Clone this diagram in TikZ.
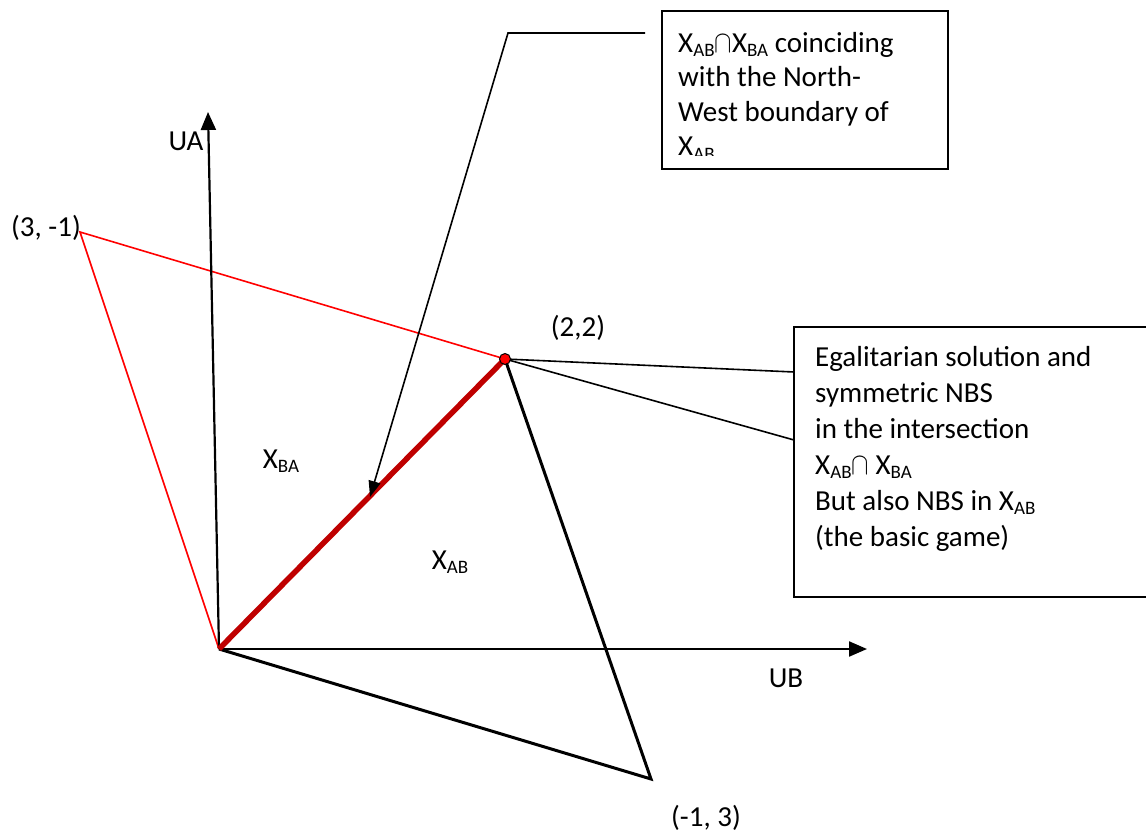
\documentclass[tikz,border=0pt]{standalone}
\usepackage{fontspec}
\usepackage{graphicx}
\setmainfont{Carlito}
\usetikzlibrary{arrows.meta}
\newcommand\sbs[1]{\raisebox{-0.15em}{\fontsize{19}{19}\selectfont #1}}
\newcommand\capx{\scalebox{1.05}[1.25]{$\cap$}}
\begin{document}
\begin{tikzpicture}[x=1pt,y=-1pt,
  lbl/.style={inner sep=0pt, font=\fontsize{29}{35}\selectfont},
  redthin/.style={draw=red, line width=1.6pt},
  redthick/.style={draw=red!75!black, line width=5.5pt},
  blackthick/.style={draw=black, line width=3pt, line join=miter},
  axis/.style={draw=black, line width=2.2pt, -{Triangle[length=18pt,width=15pt]}},
  callout/.style={draw=black, line width=1.6pt},
  boxline/.style={draw=black, line width=2pt},
  dotst/.style={circle, fill=red, draw=black, line width=1pt, minimum size=11pt, inner sep=0pt}]
\useasboundingbox (0,0) rectangle (1146,834);
\coordinate (O) at (219,649);
\coordinate (P31) at (80,232);
\coordinate (P22) at (505,359);
\coordinate (P13) at (651,779);
\coordinate (UAend) at (208,112);
\coordinate (UBend) at (867,649);
% red thin triangle
\draw[redthin] (O) -- (P31) -- (P22);
% axes
\draw[axis] (O) -- (UAend);
\draw[axis] (O) -- (UBend);
% black triangle
\draw[blackthick] (P22) -- (P13) -- (O);
% thick red boundary
\draw[redthick] (O) -- (P22);
% callouts
\coordinate (t1) at (645,33);
\coordinate (t2) at (508,33);
\coordinate (tip) at (370,497);
\draw[callout, -{Triangle[length=16pt,width=12pt]}] (t1) -- (t2) -- (tip);
\coordinate (r1) at (794,372);
\coordinate (r2) at (794,440);
\draw[callout] (P22) -- (r1);
\draw[callout] (P22) -- (r2);
\node[dotst] (dot) at (P22) {};
% labels
\node[lbl] (l31) at (46,228) {(3, -1)};
\node[lbl] (lua) at (186,141) {UA};
\node[lbl] (l22) at (578,328) {(2,2)};
\node[lbl] (lub) at (786,678) {UB};
\node[lbl] (l13) at (706,818) {(-1, 3)};
\node[lbl] (xba) at (281,461) {X\sbs{BA}};
\node[lbl] (xab) at (450,562) {X\sbs{AB}};
% top box
\node[boxline, draw, minimum width=286pt, minimum height=158pt, anchor=north west, inner sep=0pt] (topbox) at (661,10) {};
\begin{scope}
\clip (662,11) rectangle (946,156);
\node[lbl, anchor=north west, align=left, font=\fontsize{29}{34.5}\selectfont] (toptext) at (678,32) {X\sbs{AB}\capx X\sbs{BA} coinciding\\with the North-\\West boundary of\\X\sbs{AB}};
\end{scope}
% right box
\coordinate (b1) at (1150,327);
\coordinate (b2) at (794,327);
\coordinate (b3) at (794,597);
\coordinate (b4) at (1150,597);
\draw[boxline] (b1) -- (b2) -- (b3) -- (b4);
\node[lbl, anchor=north west, align=left, font=\fontsize{29}{36}\selectfont] (righttext) at (815,346) {Egalitarian solution and\\symmetric NBS\\in the intersection\\X\sbs{AB}\capx\ X\sbs{BA}\\But also NBS in X\sbs{AB}\\(the basic game)};
\end{tikzpicture}
\end{document}
